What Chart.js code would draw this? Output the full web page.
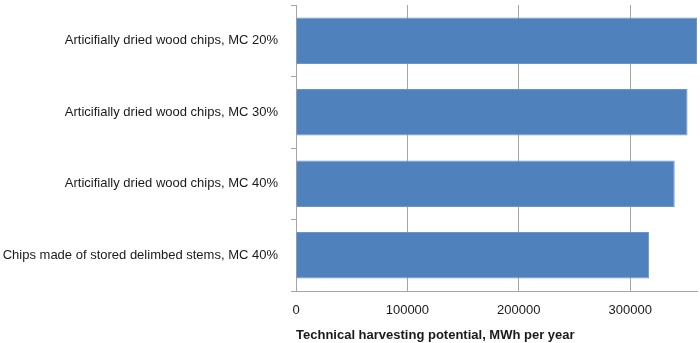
<!DOCTYPE html>
<html>
<head>
<meta charset="utf-8">
<script src="https://cdn.jsdelivr.net/npm/chart.js@4.4.1/dist/chart.umd.min.js"></script>
<style>
  html, body { margin: 0; padding: 0; background: #ffffff; }
  #wrap { width: 700px; height: 343px; position: relative; }
</style>
</head>
<body>
<div id="wrap"><canvas id="chart"></canvas></div>
<script>
// ======================================
// DATA
// ======================================

const categories = [
    "Articifially dried wood chips, MC 20%",
    "Articifially dried wood chips, MC 30%",
    "Articifially dried wood chips, MC 40%",
    "Chips made of stored delimbed stems, MC 40%"
];

const potential = [360000, 351500, 340000, 317000];

const xTicks = [0, 100000, 200000, 300000];

const axisTitle = "Technical harvesting potential, MWh per year";

// ======================================
// CHART
// ======================================

const gridGrey = "#a6a6a6";
const fontFamily = "'Liberation Sans', Arial, sans-serif";

new Chart(document.getElementById("chart"), {

    type: "bar",

    data: {
        labels: categories,
        datasets: [{
            data: potential,
            backgroundColor: "#4f81bd",
            borderColor: "#6b96c9",
            borderWidth: 1,
            categoryPercentage: 1,
            barPercentage: 0.65
        }]
    },

    options: {
        indexAxis: "y",
        responsive: true,
        maintainAspectRatio: false,
        animation: false,
        layout: {
            padding: { top: 5, right: 3, left: 0, bottom: 0 }
        },
        plugins: {
            legend: { display: false },
            tooltip: { enabled: false }
        },
        scales: {
            x: {
                min: 0,
                max: 360000,
                afterBuildTicks: function(scale) {
                    scale.ticks = xTicks.map(function(v) { return { value: v }; });
                },
                afterFit: function(scale) {
                    scale.height = 52;
                },
                grid: {
                    color: gridGrey,
                    lineWidth: 1,
                    drawTicks: false
                },
                border: { display: true, color: gridGrey, width: 1 },
                ticks: {
                    color: "#1a1a1a",
                    padding: 12,
                    maxRotation: 0,
                    font: { family: fontFamily, size: 13 },
                    callback: function(value) {
                        return String(value);
                    }
                },
                title: {
                    display: true,
                    text: axisTitle,
                    align: "start",
                    color: "#1a1a1a",
                    padding: { top: 2, bottom: 0 },
                    font: { family: fontFamily, size: 13, weight: "bold" }
                }
            },
            y: {
                afterFit: function(scale) {
                    scale.width = 296;
                    scale.paddingTop = 0;
                    scale.paddingBottom = 0;
                },
                grid: {
                    offset: true,
                    drawOnChartArea: false,
                    drawTicks: true,
                    tickLength: 5,
                    color: gridGrey
                },
                border: { display: true, color: gridGrey, width: 1 },
                ticks: {
                    color: "#1a1a1a",
                    padding: 13,
                    font: { family: fontFamily, size: 13 }
                }
            }
        }
    }

});
</script>
</body>
</html>
